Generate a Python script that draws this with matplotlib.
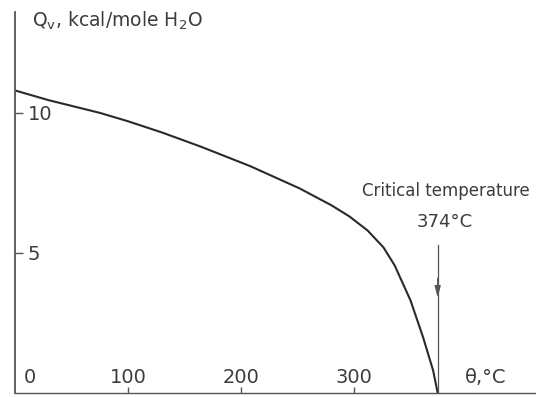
import matplotlib
matplotlib.use('Agg')
import matplotlib.pyplot as plt

plt.rcParams['font.family'] = 'DejaVu Sans'
plt.rcParams['mathtext.fontset'] = 'custom'
plt.rcParams['mathtext.rm'] = 'DejaVu Sans'

# latent heat of vaporisation of water vs temperature
theta = [0, 30, 75, 100, 130, 164, 208, 252, 280, 296, 312, 326, 336, 350, 361, 370, 374]
q_v = [10.8, 10.45, 10.0, 9.7, 9.3, 8.8, 8.1, 7.3, 6.7, 6.3, 5.8, 5.2, 4.55, 3.3, 2.0, 0.8, 0.0]

x_ticks = [100, 200, 300]
x_labels = ['0', '100', '200', '300']
x_label_pos = [13, 100, 200, 300]
y_ticks = [5, 10]
t_crit = 374

ink = '#2a2a2a'
txt = '#3c3c3c'

fig = plt.figure(figsize=(5.36, 3.97), dpi=100)
ax = fig.add_axes([15 / 536, 4 / 397, 521 / 536, 381 / 397])
ax.set_xlim(0, 461)
ax.set_ylim(0, 13.6)

ax.plot(theta, q_v, color=ink, lw=1.5, solid_capstyle='round',
        solid_joinstyle='round')

# arrow marking the critical point
ax.plot([t_crit, t_crit], [5.3, 0], color='#555555', lw=0.9)
ax.annotate('', xy=(t_crit, 3.3), xytext=(t_crit, 4.2),
            arrowprops=dict(arrowstyle='-|>,head_length=0.7,head_width=0.18',
                            color='#555555', lw=0.9))
ax.text(t_crit + 7, 7.2, 'Critical temperature', ha='center', va='center',
        fontsize=12, color=txt)
ax.text(t_crit + 6, 6.1, '374°C', ha='center', va='center',
        fontsize=13, color=txt)

for spine in ['top', 'right']:
    ax.spines[spine].set_visible(False)
ax.spines['left'].set_color('#555555')
ax.spines['bottom'].set_color('#555555')
ax.spines['left'].set_linewidth(1.3)
ax.spines['bottom'].set_linewidth(1.0)

ax.set_xticks(x_ticks)
ax.set_yticks(y_ticks)
ax.tick_params(axis='x', direction='in', length=4, width=1, color='#555555',
               labelbottom=False)
ax.tick_params(axis='y', direction='in', length=6, width=1, color='#555555',
               labelleft=False)

for pos, lab in zip(x_label_pos, x_labels):
    ax.text(pos, 0.57, lab, ha='center', va='center', fontsize=14, color=txt)
for v in y_ticks:
    ax.text(11, v - 0.05, str(v), ha='left', va='center', fontsize=14, color=txt)

ax.text(416, 0.57, 'θ,°C', ha='center', va='center', fontsize=14, color=txt)
ax.text(15, 13.3, r'Q$_\mathrm{v}$, kcal/mole H$_2$O', ha='left', va='center',
        fontsize=13.5, color=txt)

fig.savefig('out.png', dpi=100)
